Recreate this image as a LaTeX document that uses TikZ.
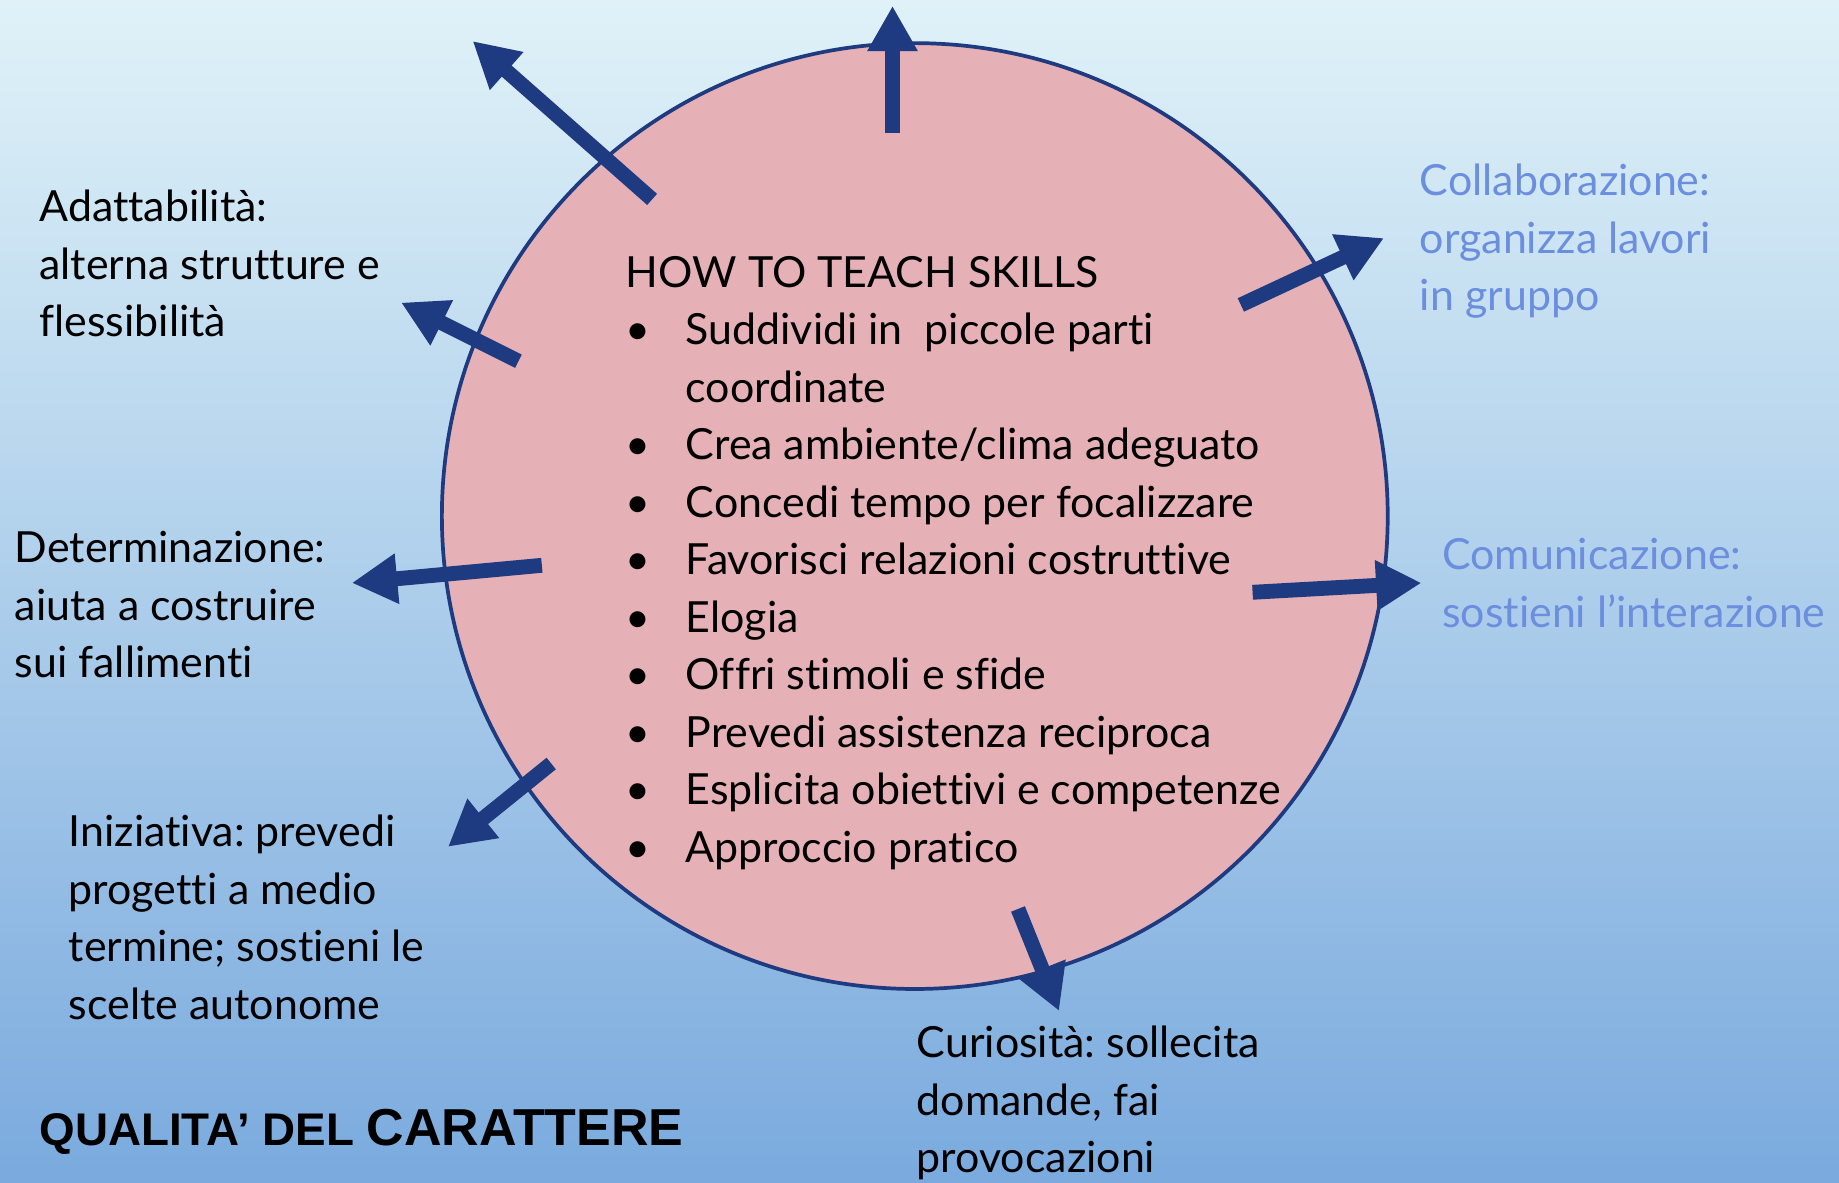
\documentclass[tikz,border=0pt]{standalone}
\usepackage{fontspec}
\setmainfont{Lato}[Ligatures=NoCommon]
\newfontfamily\titlefont{Liberation Sans}
\usetikzlibrary{arrows.meta}
\frenchspacing

\definecolor{navy}{RGB}{30,58,128}
\definecolor{rosefill}{RGB}{229,176,182}
\definecolor{lightlabel}{RGB}{107,143,222}
\definecolor{bgtop}{RGB}{224,242,248}
\definecolor{bgmid}{RGB}{178,211,236}
\definecolor{bgbottom}{RGB}{122,170,222}

\newcommand{\skillitem}[1]{\makebox[14.5pt][l]{\textbullet}#1}

\tikzset{
    wheel/.style={circle,draw=navy,line width=0.9pt,fill=rosefill,minimum size=8.06cm,inner sep=0pt},
    pointer/.style={navy,line width=3.6pt,-{Triangle[width=11.5pt,length=11pt]}},
    quality/.style={anchor=base west,align=left,inner sep=0pt,font=\fontsize{10.4}{13.94}\selectfont},
}

\begin{document}
\begin{tikzpicture}[x=0.01cm,y=-0.01cm]
    \useasboundingbox (0,0) rectangle (1568,1008);
    \shade[top color=bgtop,middle color=bgmid,bottom color=bgbottom] (0,0) rectangle (1568,1008);

    \node[wheel] (wheel) at (780,440) {};

    % arrows leaving the circle
    \coordinate (top-tail) at (761,113);      \coordinate (top-tip) at (761,5);
    \coordinate (nw-tail) at (556,170);       \coordinate (nw-tip) at (403,35);
    \coordinate (adatt-tail) at (442,308);    \coordinate (adatt-tip) at (342,258);
    \coordinate (determ-tail) at (462,482);   \coordinate (determ-tip) at (300,497);
    \coordinate (inizia-tail) at (470,651);   \coordinate (inizia-tip) at (382,722);
    \coordinate (curio-tail) at (868,775);    \coordinate (curio-tip) at (903,862);
    \coordinate (comun-tail) at (1068,505);   \coordinate (comun-tip) at (1212,497);
    \coordinate (collab-tail) at (1058,260);  \coordinate (collab-tip) at (1180,203);

    \draw[pointer] (top-tail) -- (top-tip);
    \draw[pointer] (nw-tail) -- (nw-tip);
    \draw[pointer] (adatt-tail) -- (adatt-tip);
    \draw[pointer] (determ-tail) -- (determ-tip);
    \draw[pointer] (inizia-tail) -- (inizia-tip);
    \draw[pointer] (curio-tail) -- (curio-tip);
    \draw[pointer] (comun-tail) -- (comun-tip);
    \draw[pointer] (collab-tail) -- (collab-tip);

    % texts, placed at the baseline of their last line
    \node[quality] (skills) at (533,735) {HOW TO TEACH SKILLS\\
        \skillitem{Suddividi in\ \ piccole parti}\\
        \hspace*{14.5pt}coordinate\\
        \skillitem{Crea ambiente/clima adeguato}\\
        \skillitem{Concedi tempo per focalizzare}\\
        \skillitem{Favorisci relazioni costruttive}\\
        \skillitem{Elogia}\\
        \skillitem{Offri stimoli e sfide}\\
        \skillitem{Prevedi assistenza reciproca}\\
        \skillitem{Esplicita obiettivi e competenze}\\
        \skillitem{Approccio pratico}};

    \node[quality] (adattabilita) at (33,287) {Adattabilità:\\alterna strutture e\\flessibilità};
    \node[quality] (determinazione) at (12,578) {Determinazione:\\aiuta a costruire\\sui fallimenti};
    \node[quality] (iniziativa) at (58,869) {Iniziativa: prevedi\\progetti a medio\\termine; sostieni le\\scelte autonome};
    \node[quality] (curiosita) at (781,1000) {Curiosità: sollecita\\domande, fai\\provocazioni};
    \node[quality,text=lightlabel] (collaborazione) at (1210,265) {Collaborazione:\\organizza lavori\\in gruppo};
    \node[quality,text=lightlabel] (comunicazione) at (1229,535) {Comunicazione:\\sostieni l’interazione};

    \node[anchor=base west,inner sep=0pt,font=\titlefont\bfseries] (qualities) at (33,977)
        {\fontsize{11.1}{13}\selectfont QUALITA’ DEL \fontsize{12.6}{14}\selectfont CARATTERE};
\end{tikzpicture}
\end{document}
